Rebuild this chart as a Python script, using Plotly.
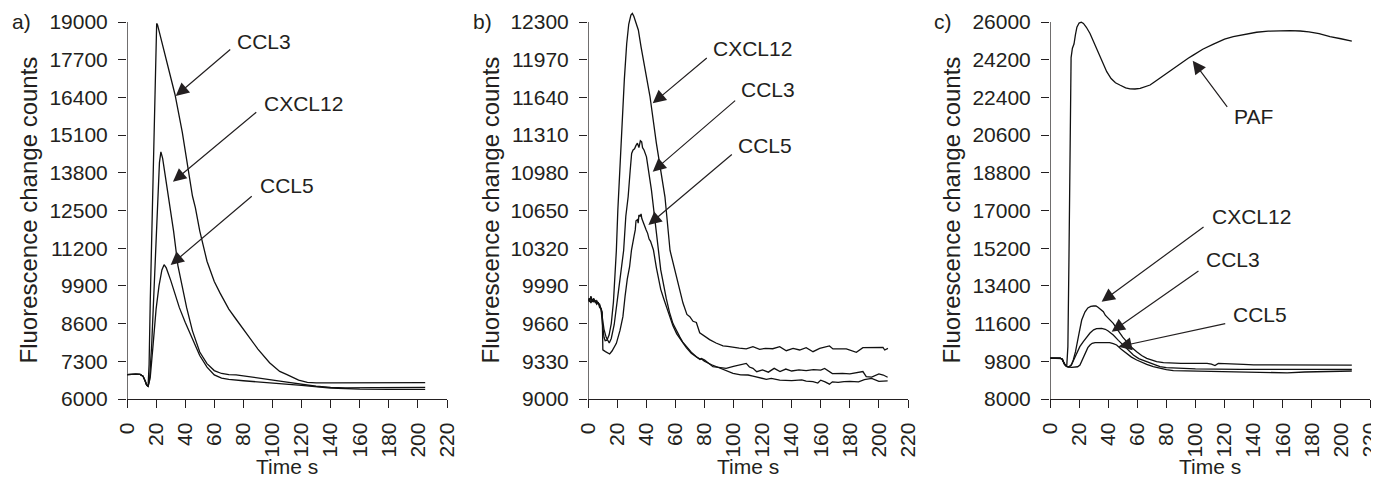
import plotly.graph_objects as go

# ---------------- Panel a data ----------------
a_t_ccl3 = [0, 3, 6, 9, 11, 12.5, 13.5, 14.5, 15.2, 16, 17.5, 19, 19.8, 20.4, 21, 22, 25, 30, 33, 38, 41, 45, 47, 50, 55, 60, 64, 70, 75, 80, 85, 87, 90, 98, 105, 110, 118, 124, 130, 140, 160, 180, 205]
a_v_ccl3 = [6840, 6855, 6860, 6850, 6790, 6620, 6480, 6440, 7200, 9400, 12650, 15900, 17900, 18950, 18900, 18700, 18100, 17100, 16500, 15200, 14300, 13000, 12600, 11800, 10750, 10050, 9650, 9100, 8750, 8400, 8050, 7950, 7720, 7250, 6950, 6840, 6650, 6575, 6555, 6555, 6560, 6560, 6565]
a_t_cxcl12 = [0, 3, 6, 9, 11, 12.5, 13.5, 14.5, 15.5, 17, 19, 21, 22.3, 23.3, 24.5, 26, 27, 29.6, 32, 35, 38, 41, 45, 50, 55, 60, 65, 70, 75, 87, 98, 110, 120, 130, 140, 150, 170, 205]
a_v_cxcl12 = [6840, 6855, 6860, 6850, 6790, 6620, 6480, 6440, 6650, 7900, 10200, 12900, 14150, 14520, 14300, 13800, 13450, 12700, 11800, 10600, 9850, 9150, 8350, 7620, 7220, 6980, 6880, 6840, 6830, 6760, 6670, 6580, 6500, 6440, 6400, 6385, 6390, 6400]
a_t_ccl5 = [0, 3, 6, 9, 11, 12.5, 13.5, 14.5, 16, 18, 20, 22, 24, 25.5, 27, 30, 33, 36, 40, 45, 50, 55, 60, 65, 70, 80, 100, 120, 140, 160, 180, 205]
a_v_ccl5 = [6840, 6855, 6860, 6850, 6790, 6620, 6480, 6440, 6750, 7900, 9100, 9900, 10450, 10630, 10520, 10100, 9600, 9150, 8650, 8050, 7500, 7100, 6830, 6720, 6680, 6630, 6560, 6470, 6380, 6340, 6330, 6330]

# ---------------- Panel b data ----------------
b_t_cxcl12 = [0, 1, 2, 3, 4, 5, 6, 7, 8, 9, 10, 11, 11.8, 13, 14.5, 16, 17.5, 18.5, 19.5, 20.5, 22, 23.5, 25, 26.6, 28, 29.5, 30.5, 31.5, 33, 34.6, 36.5, 39, 42.6, 47, 50, 52.9, 56.4, 60.7, 65.3, 68, 70, 72.2, 74.5, 76.8, 80, 83.6, 88, 92.8, 96, 100, 104, 108.8, 113.4, 118, 122, 127, 131.8, 136.3, 141, 145.5, 150, 154.7, 159.3, 166, 168.4, 177.6, 184.5, 189, 196, 202.8, 204, 206.2]
b_v_cxcl12 = [9880, 9850, 9900, 9860, 9880, 9845, 9860, 9835, 9830, 9780, 9650, 9540, 9510, 9515, 9560, 9660, 9850, 10050, 10300, 10650, 11050, 11450, 11800, 12110, 12280, 12360, 12375, 12350, 12290, 12230, 12080, 11890, 11650, 11240, 10990, 10770, 10300, 10070, 9840, 9740, 9720, 9680, 9670, 9580, 9550, 9520, 9490, 9465, 9460, 9450, 9445, 9438, 9458, 9435, 9443, 9440, 9458, 9423, 9443, 9429, 9449, 9414, 9443, 9464, 9438, 9438, 9408, 9449, 9449, 9452, 9429, 9443]
b_t_ccl3 = [0, 1, 2, 3, 4, 5, 6, 7, 8, 9, 10, 11, 12.5, 14.6, 16, 18, 20, 22, 24.5, 26, 27.6, 29, 30, 31, 32, 33, 34, 35, 36, 36.9, 37.5, 38.5, 40.2, 43.6, 47.4, 50, 53.8, 56, 58.4, 61, 63, 65, 67.6, 71, 74.5, 77, 78, 80.2, 85.9, 90, 95, 100, 105, 108.8, 111, 113.4, 116, 120, 124, 128, 132, 136, 140, 145, 150, 155, 160, 162.7, 168, 175, 180, 189, 191.3, 195, 200, 203, 206]
b_v_ccl3 = [9870, 9860, 9890, 9850, 9870, 9855, 9840, 9845, 9820, 9790, 9700, 9610, 9540, 9490, 9530, 9650, 9850, 10050, 10300, 10600, 10770, 11000, 11150, 11180, 11190, 11220, 11240, 11200, 11260, 11250, 11200, 11180, 11120, 10830, 10400, 10130, 9880, 9760, 9660, 9590, 9546, 9500, 9460, 9410, 9370, 9350, 9355, 9340, 9283, 9275, 9268, 9285, 9300, 9312, 9280, 9268, 9239, 9255, 9235, 9268, 9240, 9262, 9245, 9255, 9248, 9258, 9252, 9268, 9222, 9225, 9220, 9240, 9196, 9192, 9220, 9210, 9190]
b_t_ccl5 = [0, 1, 2, 3, 4, 5, 6, 7, 8, 9, 9.8, 10.2, 12, 14.9, 16.5, 19.5, 22, 24, 25.5, 27, 28.6, 29.9, 31.6, 32.5, 33, 34, 34.5, 35, 35.8, 36.5, 37, 38, 39, 40, 41, 42, 43, 45, 47, 50, 52, 54, 56, 58.4, 61, 63, 65, 67.6, 71, 74.5, 77, 78, 80, 85, 90, 95, 99.7, 105, 110, 113.4, 118, 122.6, 126, 131.8, 140, 147, 150, 154.7, 158, 160, 163, 166, 168, 172, 176, 180, 186, 190, 195, 200, 206]
b_v_ccl5 = [9860, 9880, 9840, 9870, 9850, 9860, 9830, 9845, 9800, 9790, 9760, 9430, 9415, 9394, 9420, 9487, 9600, 9721, 9900, 10050, 10158, 10304, 10421, 10480, 10560, 10570, 10540, 10610, 10600, 10620, 10580, 10540, 10510, 10480, 10450, 10400, 10380, 10304, 10150, 9960, 9880, 9800, 9720, 9640, 9570, 9530, 9490, 9450, 9400, 9365, 9345, 9350, 9330, 9300, 9275, 9255, 9225, 9212, 9210, 9201, 9185, 9172, 9180, 9166, 9160, 9168, 9157, 9152, 9140, 9165, 9150, 9130, 9150, 9145, 9152, 9155, 9150, 9170, 9180, 9155, 9158]

# ---------------- Panel c data ----------------
c_t_paf = [0, 5, 8, 9, 10, 11, 11.5, 12.3, 13, 13.8, 14.5, 15.4, 16.5, 17.5, 18.5, 20, 21.5, 23, 25, 27.5, 30, 33, 36, 39, 42, 45, 48, 52, 55, 58.4, 62, 65, 68.8, 72, 76, 80, 84.8, 90, 95, 98.5, 105, 112, 120, 126, 134, 142, 150, 158, 165, 172, 178, 185, 192.5, 200, 207.5]
c_v_paf = [9950, 9950, 9930, 9800, 9650, 9580, 9560, 10500, 14500, 20000, 24300, 24750, 24950, 25400, 25750, 25950, 25990, 25930, 25750, 25450, 25050, 24550, 24050, 23630, 23300, 23100, 22990, 22860, 22810, 22800, 22830, 22900, 22990, 23150, 23350, 23550, 23790, 24050, 24270, 24420, 24700, 24930, 25180, 25300, 25420, 25510, 25560, 25590, 25590, 25570, 25530, 25440, 25300, 25200, 25090]
c_t_cxcl12 = [0, 7, 8.5, 10, 11.5, 13, 14.5, 16, 17.5, 18.3, 20, 21.8, 24, 26, 28, 30, 31.6, 33, 35, 36.7, 38, 40.1, 41.5, 43.5, 46, 48.1, 50, 52.7, 56, 59.6, 63, 66.5, 70, 73.3, 78, 84.8, 90, 96.3, 103, 108, 111, 113.4, 115.7, 120, 126, 133, 140, 160, 180, 207.5]
c_v_cxcl12 = [9950, 9950, 9900, 9650, 9560, 9540, 9600, 9860, 10250, 10500, 11150, 11770, 12150, 12350, 12420, 12440, 12440, 12380, 12250, 12170, 12000, 11850, 11760, 11610, 11350, 11135, 10950, 10740, 10470, 10260, 10080, 9940, 9840, 9780, 9740, 9710, 9700, 9700, 9700, 9700, 9660, 9595, 9700, 9690, 9700, 9650, 9630, 9622, 9620, 9620]
c_t_ccl3 = [0, 7, 8.5, 10, 11.5, 13, 14.9, 16.5, 18.3, 20.5, 22.9, 25, 27.5, 30, 32, 35.5, 38, 40, 43.5, 47, 50.4, 54, 57.3, 61, 66.5, 71, 75.6, 80, 89.4, 100, 130.6, 160, 207.5]
c_v_ccl3 = [9950, 9950, 9900, 9650, 9560, 9530, 9650, 9900, 10180, 10500, 10740, 10950, 11150, 11300, 11360, 11374, 11330, 11250, 11056, 10800, 10578, 10330, 10101, 9930, 9783, 9650, 9544, 9500, 9464, 9440, 9417, 9418, 9418]
c_t_ccl5 = [0, 7, 8.5, 10, 11.5, 13, 15, 17.2, 19, 20.6, 22.5, 24, 26, 27.5, 29, 31, 35, 38, 41, 43.5, 45.8, 49, 52.7, 56, 59.6, 63, 66.5, 71, 75.6, 80, 84.8, 100, 130.6, 150, 163, 175, 190, 207.5]
c_v_ccl5 = [9950, 9950, 9900, 9650, 9560, 9520, 9510, 9512, 9540, 9623, 9900, 10180, 10450, 10578, 10660, 10690, 10700, 10700, 10690, 10640, 10578, 10380, 10180, 10000, 9862, 9750, 9655, 9550, 9464, 9400, 9353, 9330, 9305, 9290, 9250, 9290, 9320, 9337]

# ---------------- Axes ----------------
x_ticks = list(range(0, 221, 20))
a_y_ticks = [6000, 7300, 8600, 9900, 11200, 12500, 13800, 15100, 16400, 17700, 19000]
b_y_ticks = [9000, 9330, 9660, 9990, 10320, 10650, 10980, 11310, 11640, 11970, 12300]
c_y_ticks = [8000, 9800, 11600, 13400, 15200, 17000, 18800, 20600, 22400, 24200, 26000]

panel_letters = ["a)", "b)", "c)"]
x_title = "Time s"
y_title = "Fluorescence change counts"

# Annotation specs (data coordinates): label, label position, arrow tail, arrow tip
a_labels = ["CCL3", "CXCL12", "CCL5"]
a_label_pos = [(94.2, 18321), (121, 16197), (109.8, 13379)]
a_tail = [(72, 18093), (89.9, 15931), (86.8, 13034)]
a_tip = [(33.5, 16448), (31.6, 13493), (30, 10621)]

b_labels = ["CXCL12", "CCL3", "CCL5"]
b_label_pos = [(113.4, 12070), (123.8, 11705), (121.7, 11223)]
b_tail = [(82.7, 11996), (102.2, 11623), (99.9, 11151)]
b_tip = [(44.5, 11588), (44.5, 10990), (41.5, 10523)]

c_labels = ["PAF", "CXCL12", "CCL3", "CCL5"]
c_label_pos = [(140, 21479), (138.2, 16704), (125.8, 14637), (144.4, 12011)]
c_tail = [(122.6, 21880), (106.6, 16260), (103.1, 14159), (121.5, 11614)]
c_tip = [(98.1, 24153), (35.5, 12646), (42.4, 11213), (47, 10497)]

# ---------------- Layout geometry (pixels in the 1379x479 target) ----------------
PAGE_MARGIN = 8          # default body margin of the html page
W, H = 1379 - PAGE_MARGIN, 479 - PAGE_MARGIN
plot_left = [127, 588, 1050]
plot_width = 320
plot_top, plot_bottom = 22, 399
head_room = 14           # extra pixels above top tick so peaks can rise past it
ytitle_x = [28, 490, 951]
letter_x = [21, 482, 943]


def px(x):
    return (x - PAGE_MARGIN) / W


def py(y):
    return (H - (y - PAGE_MARGIN)) / H


FONT = "Liberation Sans, Arial, sans-serif"
INK = "#231f20"

fig = go.Figure()

panels = [
    ([(a_t_ccl3, a_v_ccl3), (a_t_cxcl12, a_v_cxcl12), (a_t_ccl5, a_v_ccl5)], a_y_ticks, a_labels, a_label_pos, a_tail, a_tip),
    ([(b_t_cxcl12, b_v_cxcl12), (b_t_ccl3, b_v_ccl3), (b_t_ccl5, b_v_ccl5)], b_y_ticks, b_labels, b_label_pos, b_tail, b_tip),
    ([(c_t_paf, c_v_paf), (c_t_cxcl12, c_v_cxcl12), (c_t_ccl3, c_v_ccl3), (c_t_ccl5, c_v_ccl5)], c_y_ticks, c_labels, c_label_pos, c_tail, c_tip),
]

annotations = []
shapes = []
for i, (series, yt, labels, lpos, tails, tips) in enumerate(panels):
    suffix = "" if i == 0 else str(i + 1)
    xa, ya = "x" + suffix, "y" + suffix
    for (t, v) in series:
        fig.add_trace(go.Scatter(x=t, y=v, mode="lines", xaxis=xa, yaxis=ya,
                                 line=dict(color="#111111", width=1.3),
                                 showlegend=False, hoverinfo="skip"))
    x0 = px(plot_left[i])
    x1 = px(plot_left[i] + plot_width)
    y0 = py(plot_bottom)
    y1 = py(plot_top - head_room)
    span = yt[-1] - yt[0]
    ytop = yt[-1] + span * head_room / (plot_bottom - plot_top)
    common = dict(ticks="outside", ticklen=8, tickwidth=1.3, tickcolor=INK,
                  showgrid=False, zeroline=False, automargin=False,
                  ticklabeloverflow="allow",
                  tickfont=dict(family=FONT, size=21, color=INK))
    fig.update_layout(**{
        "xaxis" + suffix: dict(domain=[x0, x1], range=[0, 220], tickvals=x_ticks,
                               ticktext=[str(v) for v in x_ticks],
                               showline=True, linecolor=INK, linewidth=1.3,
                               tickangle=-90, anchor=ya, ticklabelstandoff=6, **common),
        "yaxis" + suffix: dict(domain=[y0, y1], range=[yt[0], ytop], tickvals=yt,
                               ticktext=[str(v) for v in yt], showline=False,
                               anchor=xa, ticklabelstandoff=6, **common),
    })
    # y axis line only up to the top tick
    shapes.append(dict(type="line", xref=xa, yref=ya, x0=0, x1=0, y0=yt[0], y1=yt[-1],
                       line=dict(color=INK, width=1.3), layer="above"))
    for lab, (lx, ly), (tx, ty), (hx, hy) in zip(labels, lpos, tails, tips):
        annotations.append(dict(xref=xa, yref=ya, x=lx, y=ly, text=lab, showarrow=False,
                                font=dict(family=FONT, size=21, color=INK),
                                xanchor="center", yanchor="middle"))
        annotations.append(dict(xref=xa, yref=ya, x=hx, y=hy, ax=tx, ay=ty,
                                axref=xa, ayref=ya, text="", showarrow=True,
                                arrowhead=2, arrowsize=2.2, arrowwidth=1.2,
                                arrowcolor=INK, standoff=0))
    annotations.append(dict(xref="paper", yref="paper",
                            x=px(plot_left[i] + plot_width / 2), y=0,
                            text=x_title, showarrow=False, xanchor="center", yanchor="bottom",
                            borderpad=0,
                            font=dict(family=FONT, size=21, color=INK)))
    annotations.append(dict(xref="paper", yref="paper", x=px(ytitle_x[i]),
                            y=py((plot_top + plot_bottom) / 2),
                            text=y_title, textangle=-90, showarrow=False,
                            xanchor="center", yanchor="middle",
                            font=dict(family=FONT, size=24, color=INK)))
    annotations.append(dict(xref="paper", yref="paper", x=px(letter_x[i]), y=py(22),
                            text=panel_letters[i], showarrow=False,
                            xanchor="center", yanchor="middle",
                            font=dict(family=FONT, size=21, color=INK)))

fig.update_layout(width=W, height=H, margin=dict(l=0, r=0, t=0, b=0),
                  paper_bgcolor="white", plot_bgcolor="white",
                  annotations=annotations, shapes=shapes)

fig.write_html("out.html")
